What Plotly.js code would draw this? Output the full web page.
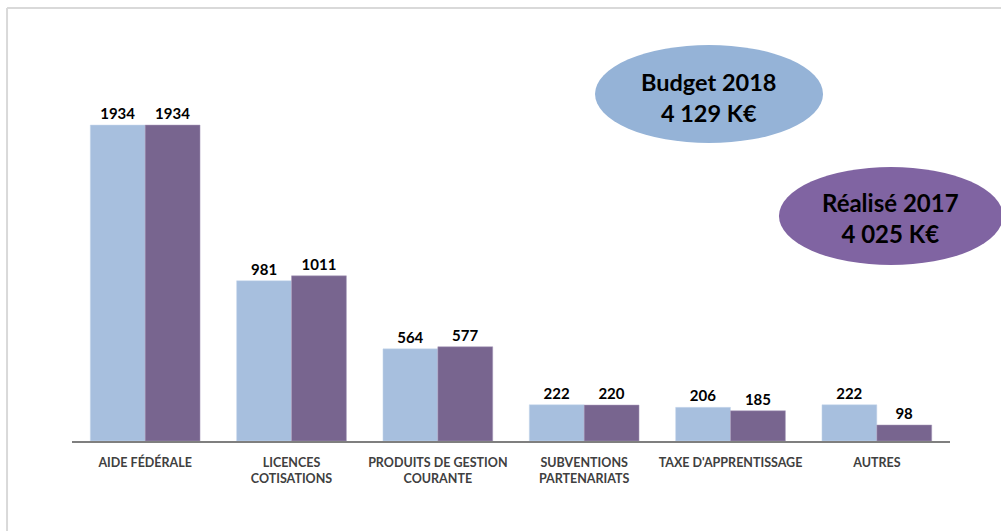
<!DOCTYPE html>
<html>
<head>
<meta charset="utf-8">
<script src="https://cdn.plot.ly/plotly-3.0.1.min.js"></script>
<style>
  html, body { margin: 0; padding: 0; background: #fff; }
  #chart { width: 1001px; height: 531px; }
</style>
</head>
<body>
<div id="chart"></div>
<script>
const categories = [
  "AIDE FÉDÉRALE",
  "LICENCES<br>COTISATIONS",
  "PRODUITS DE GESTION<br>COURANTE",
  "SUBVENTIONS<br>PARTENARIATS",
  "TAXE D'APPRENTISSAGE",
  "AUTRES"
];
const budget2018 = [1934, 981, 564, 222, 206, 222];
const realise2017 = [1934, 1011, 577, 220, 185, 98];
const seriesNames = ["Budget 2018", "Réalisé 2017"];
const totalsText = ["Budget 2018<br>4 129 K€", "Réalisé 2017<br>4 025 K€"];

const FONT = "Lato, 'Open Sans', 'Liberation Sans', sans-serif";

const traces = [
  {
    type: "bar", name: seriesNames[0], x: categories, y: budget2018,
    marker: { color: "#A7BFDE", line: { color: "#C9D8EC", width: 0.5 } },
    text: budget2018.map(String), textposition: "outside", cliponaxis: false,
    textfont: { family: FONT, size: 15, color: "#000", weight: "bold" },
    hoverinfo: "x+y"
  },
  {
    type: "bar", name: seriesNames[1], x: categories, y: realise2017,
    marker: { color: "#78658F", line: { color: "#A99BBB", width: 0.5 } },
    text: realise2017.map(String), textposition: "outside", cliponaxis: false,
    textfont: { family: FONT, size: 15, color: "#000", weight: "bold" },
    hoverinfo: "x+y"
  }
];

const layout = {
  width: 1001, height: 531,
  margin: { l: 72, r: 51, t: 20, b: 90 },
  paper_bgcolor: "#fff", plot_bgcolor: "#fff",
  showlegend: false,
  barmode: "group", bargap: 0.25, bargroupgap: 0,
  font: { family: FONT, color: "#404040" },
  xaxis: {
    type: "category",
    showline: true, linecolor: "#7F7F7F", linewidth: 2,
    ticks: "", showgrid: false, zeroline: false,
    tickfont: { family: FONT, size: 12.5, color: "#404040", weight: "bold" },
    tickangle: 0, ticklabelstandoff: 9
  },
  yaxis: {
    range: [0, 2577], visible: false, showgrid: false, zeroline: false
  },
  shapes: [
    { type: "circle", xref: "paper", yref: "paper",
      x0: 0.5957, x1: 0.8554, y0: 0.7078, y1: 0.9406,
      fillcolor: "#95B3D7", line: { width: 0 }, layer: "above" },
    { type: "circle", xref: "paper", yref: "paper",
      x0: 0.8052, x1: 1.0604, y0: 0.418, y1: 0.6508,
      fillcolor: "#8064A2", line: { width: 0 }, layer: "above" },
    { type: "line", xref: "paper", yref: "paper",
      x0: -0.074, x1: 1.07, y0: 1.0285, y1: 1.0285,
      line: { color: "#D9D9D9", width: 2 } },
    { type: "line", xref: "paper", yref: "paper",
      x0: -0.074, x1: -0.074, y0: 1.0285, y1: -0.22,
      line: { color: "#D9D9D9", width: 2 } }
  ],
  annotations: [
    { xref: "paper", yref: "paper", x: 0.7255, y: 0.815,
      text: totalsText[0], showarrow: false, align: "center",
      xanchor: "center", yanchor: "middle",
      font: { family: FONT, size: 23.5, color: "#000", weight: "bold" } },
    { xref: "paper", yref: "paper", x: 0.9317, y: 0.530,
      text: totalsText[1], showarrow: false, align: "center",
      xanchor: "center", yanchor: "middle",
      font: { family: FONT, size: 24, color: "#000", weight: "bold" } }
  ]
};

Plotly.newPlot("chart", traces, layout, { displayModeBar: false, staticPlot: true });
</script>
</body>
</html>
